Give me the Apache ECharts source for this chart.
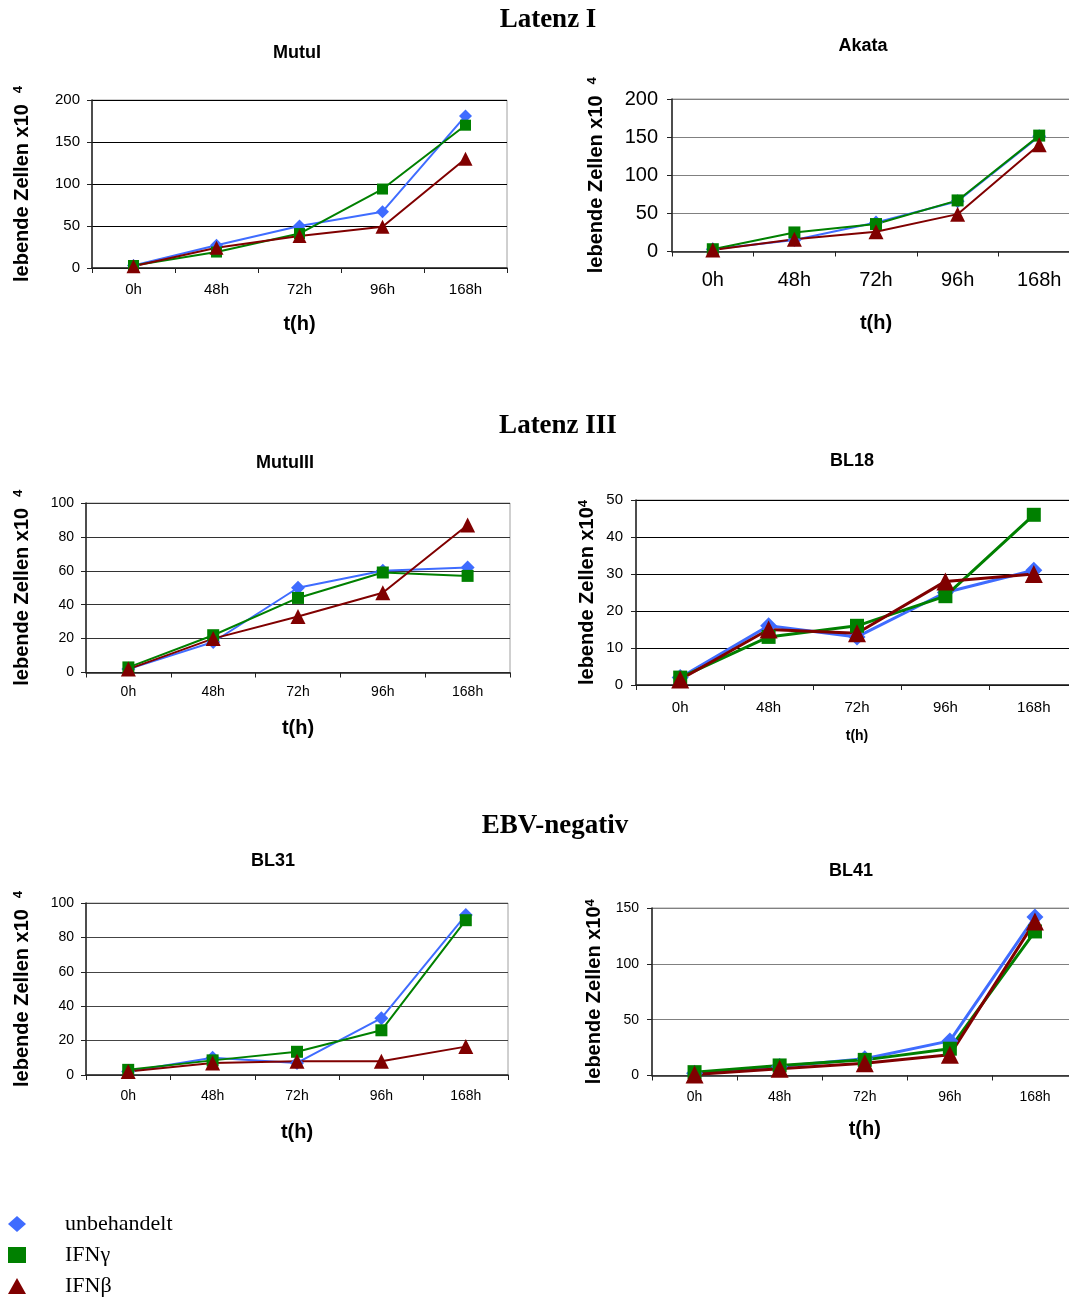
<!DOCTYPE html>
<html>
<head>
<meta charset="utf-8">
<script src="https://cdn.jsdelivr.net/npm/echarts@6/dist/echarts.min.js"></script>
<style>
  html, body { margin: 0; padding: 0; background: #fff; overflow: hidden; }
  #main { width: 1100px; height: 1298px; }
</style>
</head>
<body>
<div id="main"></div>
<script>
// time points
var categories = ['0h', '48h', '72h', '96h', '168h'];

// Latenz I
var mutuIUnbehandelt = [3, 27, 50, 67, 181];
var mutuIIfnG = [3, 19, 41, 94, 170];
var mutuIIfnB = [2, 24, 38, 49, 130];

var akataUnbehandelt = [3, 15, 38, 66, 151];
var akataIfnG = [3, 25, 36, 67, 152];
var akataIfnB = [2, 16, 26, 49, 140];

// Latenz III
var mutuIIIUnbehandelt = [2, 18, 50, 60, 62];
var mutuIIIIfnG = [3, 22, 44, 59, 57];
var mutuIIIIfnB = [2, 20, 33, 47, 87];

var bl18Unbehandelt = [2, 16, 13, 25, 31];
var bl18IfnG = [2, 13, 16, 24, 46];
var bl18IfnB = [1.5, 15, 14, 28, 30];

// EBV-negativ
var bl31Unbehandelt = [2, 10, 7, 33, 93];
var bl31IfnG = [3, 8.5, 13.5, 26, 90];
var bl31IfnB = [2, 7, 8, 8, 16.5];

var bl41Unbehandelt = [2, 8, 15, 31, 142];
var bl41IfnG = [3, 9, 14, 24, 129];
var bl41IfnB = [1, 6, 11, 18.5, 138];

var seriesNames = ['unbehandelt', 'IFNγ', 'IFNβ'];

var SANS = 'Liberation Sans';
var SERIF = 'Liberation Serif';

var looks = [
  { color: '#3f6cff', symbol: 'diamond', size: 13 },
  { color: '#008000', symbol: 'rect', size: 11 },
  { color: '#800000', symbol: 'triangle', size: 14 }
];

var panels = [
  { title: 'MutuI', tx: 297, ty: 53, grid: { left: 92, top: 100, width: 415, height: 168 },
    max: 200, interval: 50, font: 15, split: '#000', yName: '{m|lebende Zellen x10}{s|   4}',
    yGap: 60, xGap: 46, xNameSize: 20, labelGap: 14, yLabelGap: 12, mark: 1, lw: 2,
    data: [mutuIUnbehandelt, mutuIIfnG, mutuIIfnB] },
  { title: 'Akata', tx: 863, ty: 46, grid: { left: 672, top: 99, width: 408, height: 152.5 },
    max: 200, interval: 50, font: 20, split: '#808080', yName: '{m|lebende Zellen x10}{s|   4}',
    yGap: 66, xGap: 62, xNameSize: 20, labelGap: 19, yLabelGap: 14, mark: 1.05, lw: 2,
    data: [akataUnbehandelt, akataIfnG, akataIfnB] },
  { title: 'MutuIII', tx: 285, ty: 463, grid: { left: 86, top: 503, width: 424, height: 169.5 },
    max: 100, interval: 20, font: 14, split: '#333', yName: '{m|lebende Zellen x10}{s|   4}',
    yGap: 54, xGap: 46, xNameSize: 20, labelGap: 13, yLabelGap: 12, mark: 1.05, lw: 2,
    data: [mutuIIIUnbehandelt, mutuIIIIfnG, mutuIIIIfnB] },
  { title: 'BL18', tx: 852, ty: 461, grid: { left: 636, top: 500, width: 442, height: 185 },
    max: 50, interval: 10, font: 15, split: '#000', yName: '{m|lebende Zellen x10}{s|4}',
    yGap: 39, xGap: 44, xNameSize: 14, labelGap: 15, yLabelGap: 13, mark: 1.3, lw: 3,
    data: [bl18Unbehandelt, bl18IfnG, bl18IfnB] },
  { title: 'BL31', tx: 273, ty: 861, grid: { left: 86, top: 903, width: 422, height: 172 },
    max: 100, interval: 20, font: 14, split: '#444', yName: '{m|lebende Zellen x10}{s|   4}',
    yGap: 54, xGap: 47, xNameSize: 20, labelGap: 14, yLabelGap: 12, mark: 1.05, lw: 2,
    data: [bl31Unbehandelt, bl31IfnG, bl31IfnB] },
  { title: 'BL41', tx: 851, ty: 871, grid: { left: 652, top: 908, width: 425.5, height: 167.5 },
    max: 150, interval: 50, font: 14, split: '#808080', yName: '{m|lebende Zellen x10}{s|4}',
    yGap: 48, xGap: 44, xNameSize: 20, labelGap: 15, yLabelGap: 13, mark: 1.3, lw: 3,
    data: [bl41Unbehandelt, bl41IfnG, bl41IfnB] }
];

var sections = [
  { text: 'Latenz I', x: 548, y: 20 },
  { text: 'Latenz III', x: 558, y: 426 },
  { text: 'EBV-negativ', x: 555, y: 826 }
];

var grids = [], xAxes = [], yAxes = [], series = [], graphics = [];

sections.forEach(function (s) {
  graphics.push({
    type: 'text', x: s.x, y: s.y,
    style: { text: s.text, font: 'bold 27px ' + SERIF, fill: '#000', align: 'center', verticalAlign: 'middle' }
  });
});

panels.forEach(function (p, i) {
  grids.push(Object.assign({ show: true, borderColor: '#a0a0a0', borderWidth: 1, backgroundColor: '#fff' }, p.grid));
  graphics.push({
    type: 'text', x: p.tx, y: p.ty,
    style: { text: p.title, font: 'bold 18px ' + SANS, fill: '#000', align: 'center', verticalAlign: 'middle' }
  });
  xAxes.push({
    type: 'category', gridIndex: i, data: categories, boundaryGap: true,
    axisLine: { lineStyle: { color: '#222', width: 1.5 } },
    axisTick: { show: true, length: 5, lineStyle: { color: '#222' } },
    axisLabel: { fontFamily: SANS, fontSize: p.font, color: '#000', margin: p.labelGap },
    name: 't(h)', nameLocation: 'middle', nameGap: p.xGap,
    nameTextStyle: { fontFamily: SANS, fontWeight: 'bold', fontSize: p.xNameSize, color: '#000' }
  });
  yAxes.push({
    type: 'value', gridIndex: i, min: 0, max: p.max, interval: p.interval,
    axisLine: { show: true, lineStyle: { color: '#222', width: 1.5 } },
    axisTick: { show: true, length: 5, lineStyle: { color: '#222' } },
    axisLabel: { fontFamily: SANS, fontSize: p.font, color: '#000', margin: p.yLabelGap },
    splitLine: { show: true, lineStyle: { color: p.split, width: 1 } },
    name: p.yName, nameLocation: 'middle', nameRotate: 90, nameGap: p.yGap,
    nameTextStyle: {
      rich: {
        m: { fontFamily: SANS, fontWeight: 'bold', fontSize: 20, color: '#000' },
        s: { fontFamily: SANS, fontWeight: 'bold', fontSize: 13, color: '#000', verticalAlign: 'top' }
      }
    }
  });
  p.data.forEach(function (values, k) {
    series.push({
      name: seriesNames[k], type: 'line', xAxisIndex: i, yAxisIndex: i,
      data: values, symbol: looks[k].symbol, symbolSize: Math.round(looks[k].size * p.mark),
      itemStyle: { color: looks[k].color },
      lineStyle: { color: looks[k].color, width: p.lw },
      animation: false
    });
  });
});

var myChart = echarts.init(document.getElementById('main'));
var option = {
  animation: false,
  backgroundColor: '#fff',
  grid: grids,
  xAxis: xAxes,
  yAxis: yAxes,
  series: series,
  graphic: graphics,
  legend: {
    orient: 'vertical', left: 8, top: 1213, padding: 0,
    itemWidth: 18, itemHeight: 16, itemGap: 9,
    textStyle: { fontFamily: SERIF, fontSize: 22, color: '#000', padding: [0, 0, 0, 34] },
    data: [
      { name: 'unbehandelt', icon: 'diamond' },
      { name: 'IFNγ', icon: 'rect' },
      { name: 'IFNβ', icon: 'triangle' }
    ]
  }
};

option && myChart.setOption(option);
</script>
</body>
</html>
